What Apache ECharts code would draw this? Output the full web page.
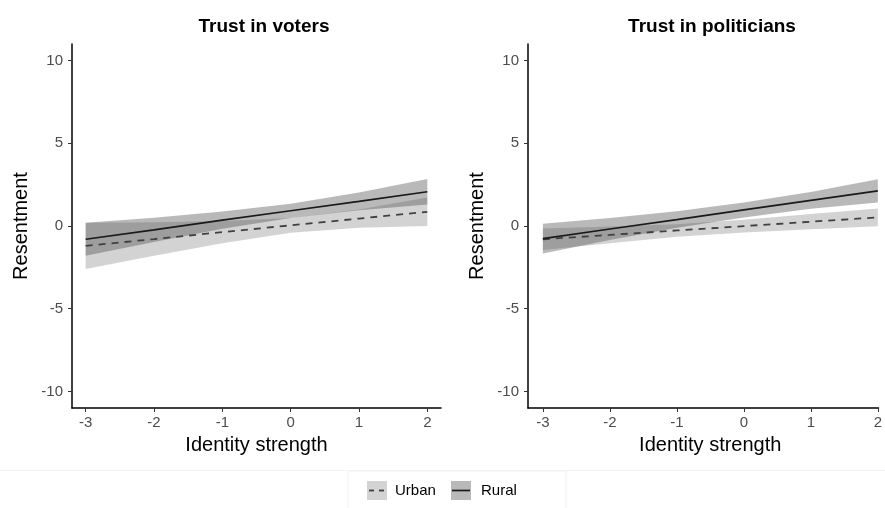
<!DOCTYPE html>
<html><head><meta charset="utf-8">
<script src="https://cdn.jsdelivr.net/npm/echarts@6/dist/echarts.min.js"></script>
<style>html,body{margin:0;padding:0;background:#fff}#c{width:885px;height:508px}</style>
</head><body><div id="c"></div>
<script>
// ---- data ----
const panelTitles = ['Trust in voters', 'Trust in politicians'];
const xVals = [-3, -2, -1, 0, 1, 2];
const yTicks = [-10, -5, 0, 5, 10];
const xTicks = [-3, -2, -1, 0, 1, 2];
const groups = ['Urban', 'Rural'];
// Trust in voters
const votersUrbanFit = [-1.20, -0.79, -0.37, 0.04, 0.45, 0.86];
const votersUrbanLo  = [-2.60, -1.80, -1.04, -0.41, -0.10, 0.00];
const votersUrbanHi  = [0.20, 0.22, 0.30, 0.49, 1.00, 1.72];
const votersRuralFit = [-0.80, -0.23, 0.35, 0.92, 1.49, 2.07];
const votersRuralLo  = [-1.80, -0.96, -0.17, 0.49, 0.95, 1.30];
const votersRuralHi  = [0.20, 0.50, 0.87, 1.35, 2.03, 2.84];
// Trust in politicians
const politUrbanFit = [-0.80, -0.54, -0.27, -0.01, 0.26, 0.52];
const politUrbanLo  = [-1.45, -1.05, -0.65, -0.40, -0.20, -0.02];
const politUrbanHi  = [-0.15, -0.03, 0.11, 0.38, 0.72, 1.06];
const politRuralFit = [-0.76, -0.18, 0.39, 0.97, 1.55, 2.12];
const politRuralLo  = [-1.66, -0.84, -0.11, 0.52, 1.05, 1.42];
const politRuralHi  = [0.14, 0.48, 0.89, 1.42, 2.05, 2.82];

const panels = [
  {urban: [votersUrbanFit, votersUrbanLo, votersUrbanHi], rural: [votersRuralFit, votersRuralLo, votersRuralHi]},
  {urban: [politUrbanFit, politUrbanLo, politUrbanHi], rural: [politRuralFit, politRuralLo, politRuralHi]}
];

// ---- style ----
const urbanFill = 'rgba(128,128,128,0.35)';
const ruralFill = 'rgba(80,80,80,0.40)';
const urbanLine = '#404040';
const ruralLine = '#1a1a1a';
const textFont = 'Liberation Sans, Arial, sans-serif';

const pts = (ys) => xVals.map((x, i) => [x, ys[i]]);

// left panel fully visible; right panel runs off the right edge of the picture
const grids = [
  {left: 72, top: 44, width: 369, height: 364},
  {left: 528, top: 44, width: 357, height: 364}
];
const xRanges = [[-3.2, 2.2], [-3.222, 2.01]];
const titleCenters = [259, 707];
const xNamePad = [[0, 0, 0, 0], [0, 0, 0, 14]];

function bandSeries(k, lo, hi, fill) {
  return {
    type: 'custom', xAxisIndex: k, yAxisIndex: k, silent: true, z: 1,
    data: xVals.map((x, i) => [x, lo[i], hi[i]]),
    renderItem: function (params, api) {
      if (params.dataIndex !== 0) return null;
      const upper = xVals.map((x, i) => api.coord([x, hi[i]]));
      const lower = xVals.map((x, i) => api.coord([x, lo[i]])).reverse();
      return {type: 'polygon', shape: {points: upper.concat(lower)}, style: {fill: fill}};
    }
  };
}

const xAxes = [], yAxes = [], series = [], titles = [];
grids.forEach((g, k) => {
  xAxes.push({
    type: 'value', gridIndex: k, min: xRanges[k][0], max: xRanges[k][1],
    name: 'Identity strength', nameLocation: 'middle', nameGap: 27,
    nameTextStyle: {fontSize: 20, color: '#000', fontFamily: textFont, padding: xNamePad[k]},
    axisLine: {show: true, onZero: false, lineStyle: {color: '#000', width: 1.5}},
    axisTick: {show: true, length: 4, customValues: xTicks, lineStyle: {color: '#333'}},
    axisLabel: {fontSize: 15, color: '#4d4d4d', fontFamily: textFont, margin: 7, customValues: xTicks},
    splitLine: {show: false}
  });
  yAxes.push({
    type: 'value', gridIndex: k, min: -11, max: 11,
    name: 'Resentment', nameLocation: 'middle', nameGap: 41, nameRotate: 90,
    nameTextStyle: {fontSize: 20, color: '#000', fontFamily: textFont},
    axisLine: {show: true, onZero: false, lineStyle: {color: '#000', width: 1.5}},
    axisTick: {show: true, length: 4, customValues: yTicks, lineStyle: {color: '#333'}},
    axisLabel: {fontSize: 15, color: '#4d4d4d', fontFamily: textFont, margin: 9, customValues: yTicks},
    splitLine: {show: false}
  });
  titles.push({
    text: panelTitles[k], left: titleCenters[k], top: 12, textAlign: 'center',
    textStyle: {fontSize: 19, fontWeight: 'bold', color: '#000', fontFamily: textFont}
  });
  const p = panels[k];
  series.push(bandSeries(k, p.urban[1], p.urban[2], urbanFill));
  series.push(bandSeries(k, p.rural[1], p.rural[2], ruralFill));
  series.push({
    name: 'Urban', type: 'line', xAxisIndex: k, yAxisIndex: k, data: pts(p.urban[0]),
    symbol: 'none', lineStyle: {color: urbanLine, width: 1.8, type: [7, 6]}, z: 3
  });
  series.push({
    name: 'Rural', type: 'line', xAxisIndex: k, yAxisIndex: k, data: pts(p.rural[0]),
    symbol: 'none', lineStyle: {color: ruralLine, width: 1.7}, z: 3
  });
});

// legend drawn as graphic keys
const legendGraphic = [
  {type: 'line', shape: {x1: 0, y1: 470.5, x2: 885, y2: 470.5}, style: {stroke: '#f2f2f2', lineWidth: 1}},
  {type: 'rect', shape: {x: 348, y: 471, width: 218, height: 40}, style: {fill: '#fff', stroke: '#f2f2f2', lineWidth: 1}},
  {type: 'rect', shape: {x: 367, y: 481, width: 20, height: 19}, style: {fill: urbanFill}},
  {type: 'line', shape: {x1: 369, y1: 490.5, x2: 386, y2: 490.5}, style: {stroke: urbanLine, lineWidth: 1.8, lineDash: [5, 5]}},
  {type: 'text', style: {text: groups[0], x: 395, y: 491, textVerticalAlign: 'middle', fontSize: 15, fill: '#000', fontFamily: textFont}},
  {type: 'rect', shape: {x: 451, y: 481, width: 20, height: 19}, style: {fill: ruralFill}},
  {type: 'line', shape: {x1: 452, y1: 490.5, x2: 470, y2: 490.5}, style: {stroke: ruralLine, lineWidth: 1.7}},
  {type: 'text', style: {text: groups[1], x: 481, y: 491, textVerticalAlign: 'middle', fontSize: 15, fill: '#000', fontFamily: textFont}}
];

const chart = echarts.init(document.getElementById('c'), null, {renderer: 'canvas'});
chart.setOption({
  animation: false,
  backgroundColor: '#fff',
  title: titles,
  grid: grids,
  xAxis: xAxes,
  yAxis: yAxes,
  series: series,
  graphic: legendGraphic
});
</script></body></html>
